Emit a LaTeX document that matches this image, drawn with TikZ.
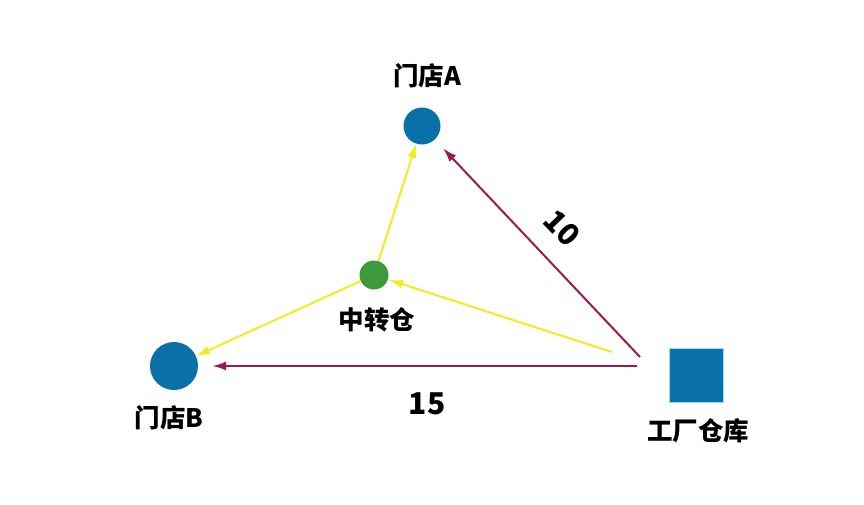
\documentclass[tikz,border=0pt]{standalone}
\usepackage{fontspec}
\setmainfont{Noto Sans CJK SC}
\usetikzlibrary{arrows.meta}
\definecolor{siteblue}{HTML}{0A70A8}
\definecolor{hubgreen}{HTML}{3C9A3A}
\definecolor{directred}{HTML}{9B1C4C}
\definecolor{transferyellow}{HTML}{F2EC1E}
\tikzset{
    >={Latex[length=14pt,width=9pt]}, % arrow heads
    store/.style={
            circle,
            fill=siteblue,
            inner sep=0pt,
        },
    hub/.style={
            circle,
            fill=hubgreen,
            inner sep=0pt,
            minimum size=29pt,
        },
    factory/.style={
            rectangle,
            fill=siteblue,
            draw=cyan!40,
            inner sep=0pt,
            minimum size=54pt,
        },
    caption/.style={
            font=\fontsize{25.5}{25.5}\selectfont\bfseries,
        },
    amount/.style={
            font=\fontsize{30}{30}\selectfont\bfseries,
        },
    direct/.style={->, directred, line width=2pt},
    transfer/.style={->, transferyellow, line width=2pt},
}

\begin{document}
\begin{tikzpicture}[x=1pt, y=-1pt]
                \useasboundingbox (0,0) rectangle (864,504);

                % nodes
                \node[store, minimum size=37pt] (sA) at (422,126) {};
                \node[store, minimum size=48pt] (sB) at (174,366) {};
                \node[hub] (hub) at (374,275) {};
                \node[factory] (fac) at (696,375) {};

                \node[caption] (lA) at (427,76) {门店A};
                \node[caption] (lB) at (169,418) {门店B};
                \node[caption] (lhub) at (377,320) {中转仓};
                \node[caption] (lfac) at (698,431) {工厂仓库};

                % free ends left of the factory
                \coordinate (dA) at (640,357);
                \coordinate (dB) at (637,366);
                \coordinate (tH) at (612,352);

                % edges
                \draw[direct, shorten >=12pt] (dA) -- (sA);
                \draw[direct, shorten >=14pt] (dB) -- (sB);
                \node[amount, rotate=-46, inner sep=0pt] (n10) at (562,228) {10};
                \node[amount] (n15) at (427,404) {15};

                \draw[transfer, shorten >=1pt] (tH) -- (hub);
                \draw[transfer] (hub) -- (sB);
                \draw[transfer] (hub) -- (sA);

        \end{tikzpicture}
\end{document}
